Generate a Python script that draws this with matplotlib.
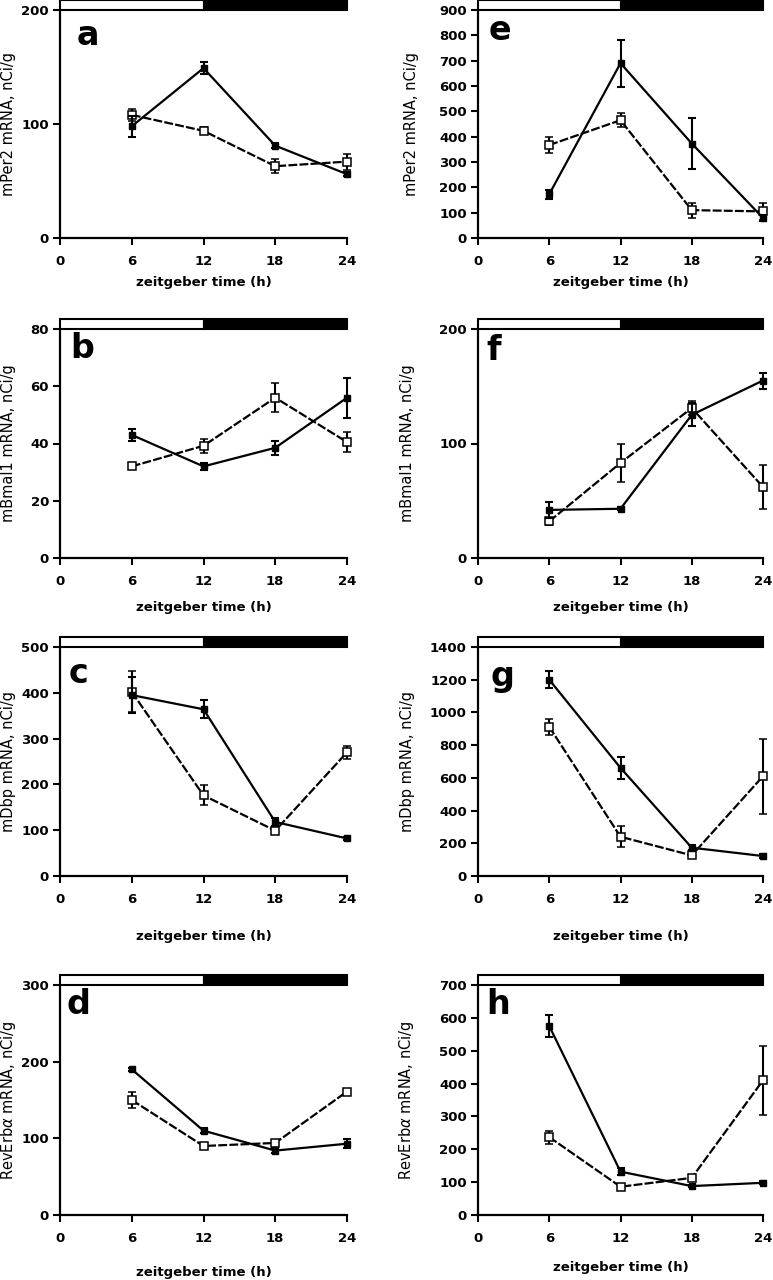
import matplotlib
matplotlib.use("Agg")
import matplotlib.pyplot as plt
import matplotlib.patches as mpatches

# ── Data ──────────────────────────────────────────────────────────────────────

ZT = [6, 12, 18, 24]
X_TICKS = [0, 6, 12, 18, 24]

# a  mPer2 (left column)
A_FILLED = [98, 149, 81, 56]
A_FILLED_ERR = [9, 5, 2, 2]
A_OPEN = [108, 94, 63, 67]
A_OPEN_ERR = [5, 3, 6, 7]

# b  mBmal1
B_FILLED = [43, 32, 38.5, 56]
B_FILLED_ERR = [2, 1.2, 2.5, 7]
B_OPEN = [32, 39.2, 56, 40.5]
B_OPEN_ERR = [1, 2.5, 5, 3.5]

# c  mDbp
C_FILLED = [395, 364, 118, 82]
C_FILLED_ERR = [40, 20, 8, 4]
C_OPEN = [402, 176, 99, 270]
C_OPEN_ERR = [45, 22, 5, 14]

# d  RevErbα
D_FILLED = [190, 110, 84, 93]
D_FILLED_ERR = [2, 3, 3, 6]
D_OPEN = [150, 90, 94, 161]
D_OPEN_ERR = [11, 2, 3, 4]

# e  mPer2 (right column)
E_FILLED = [173, 690, 373, 79]
E_FILLED_ERR = [18, 92, 100, 10]
E_OPEN = [367, 465, 110, 105]
E_OPEN_ERR = [32, 28, 30, 35]

# f  mBmal1
F_FILLED = [42, 43, 125, 155]
F_FILLED_ERR = [7, 1.5, 10, 7]
F_OPEN = [32, 83, 131, 62]
F_OPEN_ERR = [3, 17, 6, 19]

# g  mDbp
G_FILLED = [1200, 661, 173, 122]
G_FILLED_ERR = [53, 65, 15, 10]
G_OPEN = [912, 240, 126, 610]
G_OPEN_ERR = [50, 65, 10, 230]

# h  RevErbα
H_FILLED = [575, 132, 88, 98]
H_FILLED_ERR = [33, 10, 4, 5]
H_OPEN = [237, 86, 113, 410]
H_OPEN_ERR = [20, 3, 4, 105]

Y_TICKS_A = [0, 100, 200]
Y_TICKS_B = [0, 20, 40, 60, 80]
Y_TICKS_C = [0, 100, 200, 300, 400, 500]
Y_TICKS_D = [0, 100, 200, 300]
Y_TICKS_E = [0, 100, 200, 300, 400, 500, 600, 700, 800, 900]
Y_TICKS_F = [0, 100, 200]
Y_TICKS_G = [0, 200, 400, 600, 800, 1000, 1200, 1400]
Y_TICKS_H = [0, 100, 200, 300, 400, 500, 600, 700]

LABEL_PER2 = "mPer2 mRNA, nCi/g"
LABEL_BMAL = "mBmal1 mRNA, nCi/g"
LABEL_DBP = "mDbp mRNA, nCi/g"
LABEL_REV = r"RevErb$\alpha$ mRNA, nCi/g"
X_LABEL = "zeitgeber time (h)"

# ── Layout (figure pixels, 773 x 1280) ────────────────────────────────────────

W, H = 773, 1280
COLS = [(60, 347), (478, 763)]
ROWS = [(10, 238), (329, 558), (647, 876), (985, 1215)]
BAR_PX = 10

LINE_W = 1.6


def _px_axes(fig, col, row):
    x0, x1 = COLS[col]
    y0, y1 = ROWS[row]
    return fig.add_axes([x0 / W, 1 - y1 / H, (x1 - x0) / W, (y1 - y0) / H])


def _draw_panel(ax, letter, filled, filled_err, opened, opened_err, yticks,
                ylabel, letter_xy, xlab_y, ylab_x):
    ymax = yticks[-1]
    ax.set_xlim(0, 24)
    ax.set_ylim(0, ymax)

    ax.errorbar(ZT, opened, yerr=opened_err, color="black", lw=LINE_W,
                ls=(0, (4, 1)), marker="s", ms=5.5, mfc="white", mec="black",
                mew=1.1, elinewidth=1.5, capsize=3, capthick=1.5,
                clip_on=False, zorder=3)
    ax.errorbar(ZT, filled, yerr=filled_err, color="black", lw=LINE_W,
                marker="s", ms=5, mfc="black", mec="black",
                elinewidth=1.5, capsize=3, capthick=1.5,
                clip_on=False, zorder=4)

    for s in ("top", "right"):
        ax.spines[s].set_visible(False)
    for s in ("left", "bottom"):
        ax.spines[s].set_linewidth(1.6)

    ax.set_xticks(X_TICKS)
    ax.set_yticks(yticks)
    ax.tick_params(direction="out", length=5, width=1.5, labelsize=9.5)
    ax.tick_params(axis="x", pad=7)
    ax.tick_params(axis="y", pad=3)
    for lab in ax.get_xticklabels() + ax.get_yticklabels():
        lab.set_fontweight("bold")

    ax.set_xlabel(X_LABEL, fontsize=9.5, fontweight="bold")
    ax.xaxis.set_label_coords(0.5, xlab_y)
    ax.xaxis.label.set_va("center")
    ax.set_ylabel(ylabel, fontsize=10.5)
    ax.yaxis.set_label_coords(ylab_x, 0.5)
    ax.yaxis.label.set_va("center")

    # light / dark bar on top
    bbox = ax.get_position()
    bar_h = BAR_PX / (bbox.height * H)
    trans = ax.get_xaxis_transform()
    ax.add_patch(mpatches.Rectangle((0, 1), 12, bar_h, transform=trans,
                                    facecolor="white", edgecolor="black",
                                    lw=1.5, clip_on=False, zorder=5))
    ax.add_patch(mpatches.Rectangle((12, 1), 12, bar_h, transform=trans,
                                    facecolor="black", edgecolor="black",
                                    lw=1.5, clip_on=False, zorder=5))

    ax.text(letter_xy[0], letter_xy[1], letter, transform=ax.transAxes,
            ha="center", va="center", fontsize=24, fontweight="bold")


fig = plt.figure(figsize=(W / 100, H / 100), dpi=100)
plt.rcParams["font.family"] = ["DejaVu Sans"]

panels = [
    (0, 0, "a", A_FILLED, A_FILLED_ERR, A_OPEN, A_OPEN_ERR, Y_TICKS_A, LABEL_PER2, (0.098, 0.89), -0.193, -0.18),
    (0, 1, "b", B_FILLED, B_FILLED_ERR, B_OPEN, B_OPEN_ERR, Y_TICKS_B, LABEL_BMAL, (0.077, 0.913), -0.214, -0.18),
    (0, 2, "c", C_FILLED, C_FILLED_ERR, C_OPEN, C_OPEN_ERR, Y_TICKS_C, LABEL_DBP, (0.066, 0.886), -0.266, -0.18),
    (0, 3, "d", D_FILLED, D_FILLED_ERR, D_OPEN, D_OPEN_ERR, Y_TICKS_D, LABEL_REV, (0.063, 0.917), -0.252, -0.18),
    (1, 0, "e", E_FILLED, E_FILLED_ERR, E_OPEN, E_OPEN_ERR, Y_TICKS_E, LABEL_PER2, (0.077, 0.908), -0.193, -0.232),
    (1, 1, "f", F_FILLED, F_FILLED_ERR, F_OPEN, F_OPEN_ERR, Y_TICKS_F, LABEL_BMAL, (0.056, 0.908), -0.214, -0.246),
    (1, 2, "g", G_FILLED, G_FILLED_ERR, G_OPEN, G_OPEN_ERR, Y_TICKS_G, LABEL_DBP, (0.086, 0.87), -0.266, -0.246),
    (1, 3, "h", H_FILLED, H_FILLED_ERR, H_OPEN, H_OPEN_ERR, Y_TICKS_H, LABEL_REV, (0.07, 0.917), -0.23, -0.25),
]

for col, row, letter, fv, fe, ov, oe, yt, yl, lxy, xly, ylx in panels:
    ax = _px_axes(fig, col, row)
    _draw_panel(ax, letter, fv, fe, ov, oe, yt, yl, lxy, xly, ylx)

fig.savefig("out.png", dpi=100, facecolor="white")
